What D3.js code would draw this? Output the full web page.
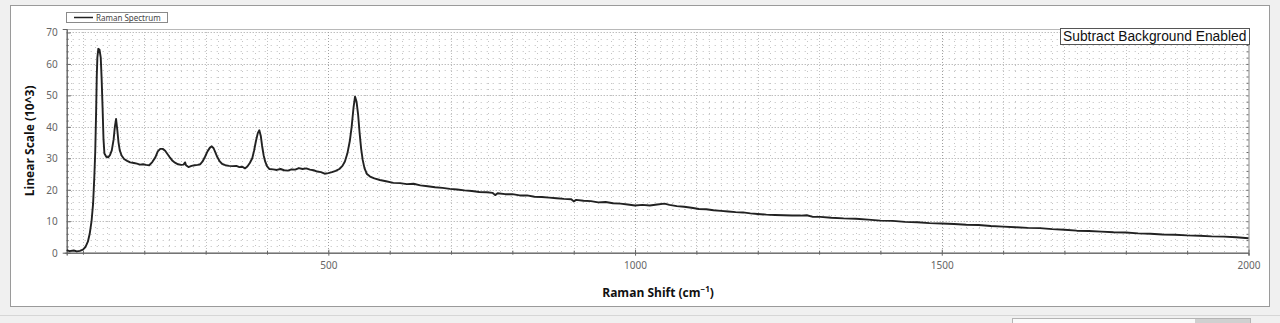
<!DOCTYPE html>
<html><head><meta charset="utf-8">
<script src="https://cdn.jsdelivr.net/npm/d3@7"></script>
<style>html,body{margin:0;padding:0;background:#f0f0f0;}svg{display:block;}</style>
</head><body>
<svg id="c" width="1280" height="323"></svg>
<script>
// ---- data ----
const ramanShift = [73.5,78,85,90,95,100,104,108,111,114,116.5,118.5,120,121.5,122.5,123.5,125,127,129,130.5,132,133.5,135,138,141,144,147,150,152,154,156,158,160,163,167,172,177,183,188,193,198,203,208,213,218,222,226,230,234,238,242,246,250,255,260,264,266.5,268,272,277,282,287,291,295,299,303,307,310,313,316,319,323,327,332,338,344,350,355,360,364,368,372,376,379,382,385,387.5,390,392,394.5,397,400,404,410,416,422,428,434,440,446,452,458,464,470,476,482,488,494,500,506,512,518,523,527,531,535,538,541,543.5,546,548.5,551,553.5,556,559,563,568,575,584,594,606,617,628,639,650,662,674,686,698,710,722,734,746,758,768,772,776,788,800,812,824,836,848,860,872,884,896,900,904,916,928,940,952,964,976,988,1000,1012,1024,1036,1048,1056,1068,1080,1092,1104,1116,1128,1140,1152,1164,1176,1188,1200,1214,1228,1242,1256,1270,1280,1290,1302,1320,1340,1360,1380,1400,1420,1440,1460,1480,1500,1520,1540,1560,1580,1600,1620,1640,1660,1680,1700,1720,1740,1760,1780,1800,1820,1840,1860,1880,1900,1920,1940,1960,1980,2000];
const intensity = [0.8,0.5,0.7,0.4,0.6,1.0,1.8,3.5,6,10,15.5,24,32,45,56,62,64.8,64.5,62,55,46,36,31.5,30.5,30.3,31,32.5,36,40,42.5,39,35,32.5,30.9,29.8,29.2,28.7,28.5,28.3,28.0,28.1,27.9,27.8,28.8,30.3,32.2,33.0,33.0,32.4,31.3,30.2,29.2,28.6,28.1,27.9,28.0,28.7,27.8,27.2,27.6,27.8,27.9,28.1,29.0,30.5,32.2,33.4,33.8,33.2,31.8,30.4,29.0,28.2,27.8,27.6,27.5,27.6,27.2,27.3,26.8,27.4,28.5,30.0,32.5,35.5,38.0,38.9,37.0,34.0,31.0,29.0,27.5,26.6,26.5,26.3,26.6,26.2,26.1,26.5,26.4,26.9,26.6,26.8,26.4,26.2,25.8,25.6,25.1,25.3,25.6,26.0,26.6,27.6,29.0,31.5,35.5,40,46,49.6,48,44,38,33,29.5,26.8,25.0,24.2,23.6,23.1,22.7,22.2,22.1,21.8,21.9,21.4,21.1,20.8,20.6,20.3,20.1,19.8,19.6,19.3,19.2,19.0,18.3,18.9,18.6,18.6,18.2,18.2,17.8,17.7,17.5,17.3,17.1,17.0,16.3,16.8,16.5,16.4,16.0,16.1,15.7,15.6,15.3,15.0,15.2,15.0,15.3,15.6,15.2,14.8,14.6,14.3,13.9,13.8,13.5,13.3,13.1,12.9,12.8,12.5,12.3,12.1,12.0,11.9,11.8,11.8,11.9,11.4,11.4,11.1,10.9,10.8,10.5,10.2,10.1,9.8,9.7,9.4,9.3,9.1,8.9,8.8,8.5,8.3,8.1,7.9,7.8,7.5,7.3,7.0,6.9,6.7,6.5,6.4,6.15,6.0,5.8,5.7,5.5,5.4,5.2,5.1,4.9,4.6,4.35];
const xTickLabels = [500,1000,1500,2000];
const yTickLabels = [0,10,20,30,40,50,60,70];
const seriesName = "Raman Spectrum";
const yTitle = "Linear Scale (10^3)";
const noteText = "Subtract Background Enabled";

// ---- layout ----
const svg = d3.select("#c");
const L = 66.7, R = 1248.5, T = 29, B = 252.7;
const x = d3.scaleLinear().domain([73.5, 2000]).range([L, R]);
const y = d3.scaleLinear().domain([0, 71.1]).range([B, T]);

// window chrome
svg.append("rect").attr("x",0).attr("y",0).attr("width",1280).attr("height",323).attr("fill","#f0f0f0");
svg.append("rect").attr("x",10.5).attr("y",5.5).attr("width",1259).attr("height",301).attr("fill","#fff").attr("stroke","#9a9a9a");
svg.append("line").attr("x1",0).attr("x2",1280).attr("y1",315.5).attr("y2",315.5).attr("stroke","#d6d6d6");
svg.append("rect").attr("x",1012.5).attr("y",318.5).attr("width",238).attr("height",8).attr("fill","#fafafa").attr("stroke","#b4b4b4");
svg.append("rect").attr("x",1195).attr("y",319).attr("width",55).attr("height",6).attr("fill","#d0d0d0");

// grid
const g = svg.append("g");
const minorY = d3.range(2, 71, 2).filter(v => v % 10 !== 0);
const majorY = d3.range(10, 71, 10);
const minorX = d3.range(80, 2000, 20).filter(v => v % 100 !== 0);
const majorX = d3.range(100, 2000, 100);
g.selectAll(".mh").data(minorY).join("line")
  .attr("x1",L).attr("x2",R).attr("y1",d=>Math.round(y(d))+0.5).attr("y2",d=>Math.round(y(d))+0.5)
  .attr("stroke","#bdbdbd").attr("stroke-dasharray","1,5");
g.selectAll(".mv").data(minorX).join("line")
  .attr("y1",T).attr("y2",B).attr("x1",d=>Math.round(x(d))+0.5).attr("x2",d=>Math.round(x(d))+0.5)
  .attr("stroke","#c4c4c4").attr("stroke-dasharray","1,5");
g.selectAll(".Mh").data(majorY).join("line")
  .attr("x1",L).attr("x2",R).attr("y1",d=>Math.round(y(d))+0.5).attr("y2",d=>Math.round(y(d))+0.5)
  .attr("stroke","#a0a0a0").attr("stroke-dasharray","1,2");
g.selectAll(".Mv").data(majorX).join("line")
  .attr("y1",T).attr("y2",B).attr("x1",d=>Math.round(x(d))+0.5).attr("x2",d=>Math.round(x(d))+0.5)
  .attr("stroke",d=>d%500===0?"#a0a0a0":"#c0c0c0").attr("stroke-dasharray","1,2");

// frame top/right
svg.append("line").attr("x1",L).attr("x2",R).attr("y1",T+0.5).attr("y2",T+0.5).attr("stroke","#b8b8b8");
svg.append("line").attr("x1",R+0.5).attr("x2",R+0.5).attr("y1",T).attr("y2",B).attr("stroke","#888");

// axes
const axisColor = "#666";
const xMajor = d3.axisBottom(x).tickValues(xTickLabels).tickSize(3).tickFormat(d3.format("d"));
const xAx = svg.append("g").attr("transform",`translate(0,${B})`).call(xMajor);
const xMinorAx = svg.append("g").attr("transform",`translate(0,${B})`)
  .call(d3.axisBottom(x).tickValues(d3.range(100,2000,100).filter(v=>v%500!==0)).tickSize(2).tickFormat(""));
const yAx = svg.append("g").attr("transform",`translate(${L},0)`)
  .call(d3.axisLeft(y).tickValues(yTickLabels).tickSize(4).tickFormat(d3.format("d")));
const yMinorAx = svg.append("g").attr("transform",`translate(${L},0)`)
  .call(d3.axisLeft(y).tickValues(d3.range(2,71,2).filter(v=>v%10!==0)).tickSize(2).tickFormat(""));
const yRight = svg.append("g").attr("transform",`translate(${R},0)`)
  .call(d3.axisLeft(y).tickValues(d3.range(2,71,2)).tickSize(2).tickFormat(""));
[xAx,xMinorAx,yAx,yMinorAx,yRight].forEach(a=>{
  a.select(".domain").attr("stroke",axisColor);
  a.selectAll(".tick line").attr("stroke",axisColor);
  a.selectAll("text").attr("fill","#666").attr("font-family","'Noto Sans', 'Open Sans', sans-serif").attr("font-size","10px");
});
yRight.select(".domain").remove();
// ticks crossing the axis
xAx.selectAll(".tick line").attr("y1",-3);
xMinorAx.selectAll(".tick line").attr("y1",-2);
yAx.selectAll(".tick line").attr("x2",4);
yMinorAx.selectAll(".tick line").attr("x2",2);
xAx.selectAll("text").attr("dy","0.4em").attr("y",12);
yAx.selectAll("text").attr("x",-9).attr("dy","0.35em");

// series line
const line = d3.line().x((d,i)=>x(ramanShift[i])).y(d=>y(d));
svg.append("path").datum(intensity).attr("d",line)
  .attr("fill","none").attr("stroke","#222").attr("stroke-width",1.9).attr("stroke-linejoin","round");

// axis titles
svg.append("text").attr("x",658).attr("y",297).attr("text-anchor","middle")
  .attr("font-family","'Open Sans', 'Noto Sans', sans-serif").attr("font-weight","bold").attr("font-size","12px").attr("fill","#111")
  .text("Raman Shift (cm").append("tspan").attr("baseline-shift","super").attr("font-size","8px").text("−1")
  .select(function(){return this.parentNode;}).append("tspan").text(")");
svg.append("text").attr("transform",`translate(34,${(T+B)/2}) rotate(-90)`).attr("text-anchor","middle")
  .attr("font-family","'Open Sans', 'Noto Sans', sans-serif").attr("font-weight","bold").attr("font-size","12px").attr("fill","#111")
  .text(yTitle);

// legend
const lg = svg.append("g");
lg.append("rect").attr("x",66.5).attr("y",12.5).attr("width",101).attr("height",10).attr("fill","#fff").attr("stroke","#8a8a8a");
lg.append("line").attr("x1",74).attr("x2",93).attr("y1",17.5).attr("y2",17.5).attr("stroke","#222").attr("stroke-width",1.5);
lg.append("text").attr("x",96).attr("y",20.5).attr("font-family","'Noto Sans', sans-serif").attr("font-size","8px").attr("fill","#444").text(seriesName);

// note box
svg.append("rect").attr("x",1060.5).attr("y",28.5).attr("width",189).attr("height",16).attr("fill","#fff").attr("stroke","#555");
svg.append("text").attr("x",1063).attr("y",41).attr("font-family","'Liberation Sans', Arial, sans-serif").attr("font-size","13.8px").attr("fill","#111").text(noteText);
</script>
</body></html>
